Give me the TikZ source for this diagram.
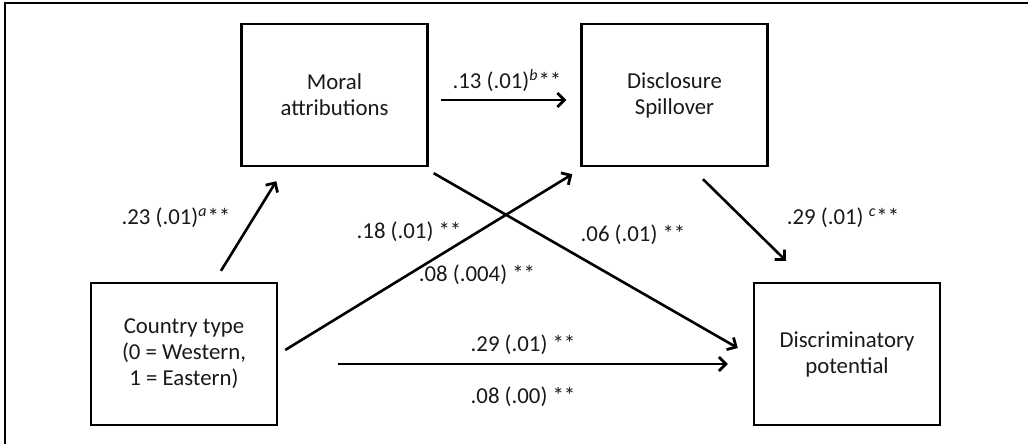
\documentclass[tikz,border=0pt]{standalone}
\usepackage{fontspec}
\setmainfont{Carlito}
\usetikzlibrary{arrows.meta}
\begin{document}
\begin{tikzpicture}[x=0.5pt,y=-0.5pt,
  box/.style={draw=black,line width=1.2pt,minimum width=93pt,minimum height=71pt,inner sep=0pt,align=center,font=\fontsize{11.4pt}{13pt}\selectfont,text=black!90},
  lbl/.style={inner sep=0pt,font=\fontsize{11.4pt}{13pt}\selectfont,text=black!90},
  arr/.style={line width=1.3pt,draw=black,-{Straight Barb[length=3.5pt,width=7pt,line width=1.4pt]}}]
\useasboundingbox (0,0) rectangle (1028,444);
\draw[line width=1.3pt,black] (5,444) -- (5,3) -- (1028,3);
\node[box] (moral) at (334.5,95) {Moral\\attributions};
\node[box] (discl) at (674.5,95) {Disclosure\\Spillover};
\node[box] (country) at (184,354) {Country type\\(0 = Western,\\1 = Eastern)};
\node[box] (discrim) at (847,354) {Discriminatory\\potential};
\draw[arr] ([shift={(37,-11)}]country.north) -- ([shift={(36,14)}]moral.south west);
\draw[arr] ([shift={(12,5)}]moral.east) -- ([shift={(-14,5)}]discl.west);
\draw[arr] ([shift={(5,6)}]moral.south east) -- ([shift={(-15,-6)}]discrim.west);
\draw[arr] ([shift={(7,-4)}]country.east) -- ([shift={(-8,7)}]discl.south west);
\draw[arr] ([shift={(28.5,12)}]discl.south) -- ([shift={(-61,-21)}]discrim.north);
\draw[arr] ([shift={(60,10)}]country.east) -- ([shift={(-25,10)}]discrim.west);
\node[lbl] (l1) at (176,218) {.23 (.01)\textsuperscript{\itshape a}**};
\node[lbl] (l2) at (507,81) {.13 (.01)\textsuperscript{\itshape b}**};
\node[lbl] (l3) at (409,232) {.18 (.01) **};
\node[lbl] (l4) at (477,275) {.08 (.004) **};
\node[lbl] (l5) at (633,235) {.06 (.01) **};
\node[lbl] (l6) at (843,218) {.29 (.01) \textsuperscript{\itshape c}**};
\node[lbl] (l7) at (523,345) {.29 (.01) **};
\node[lbl] (l8) at (523,397) {.08 (.00) **};
\end{tikzpicture}
\end{document}
